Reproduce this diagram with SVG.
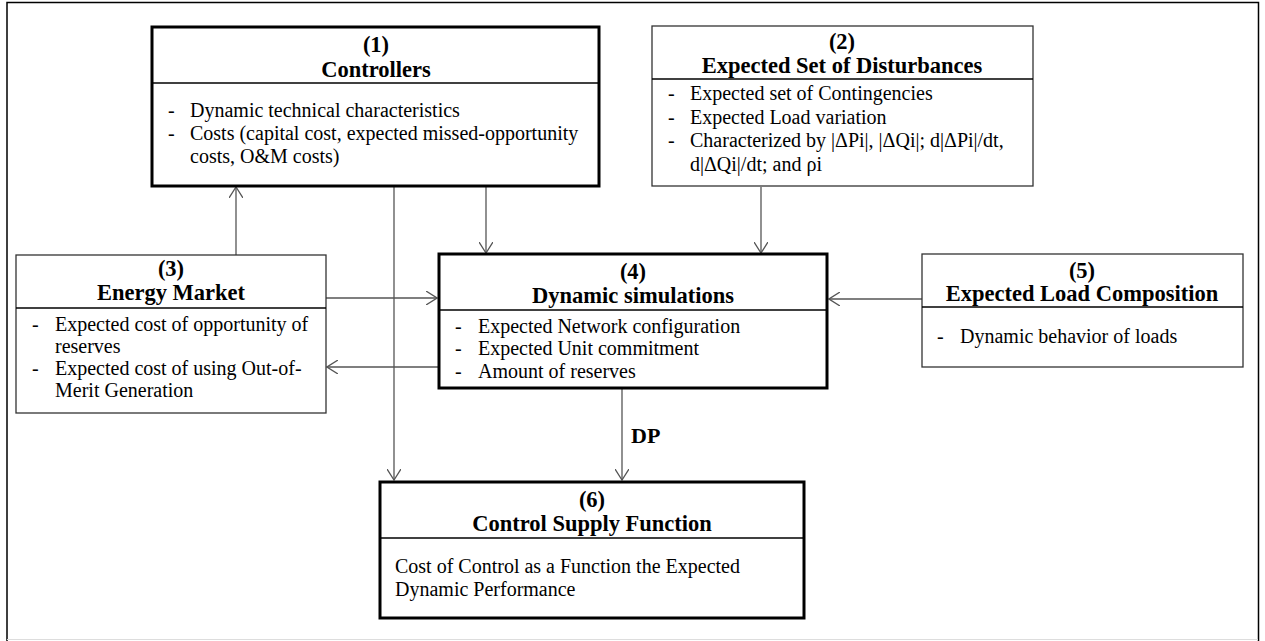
<svg xmlns="http://www.w3.org/2000/svg" width="1265" height="641" viewBox="0 0 1265 641">
<defs>
<style>
.thick{fill:#fff;stroke:#000;stroke-width:3}
.thin{fill:#fff;stroke:#333;stroke-width:1.3}
.div{stroke:#000;stroke-width:1.3}
.hd{font-family:"Liberation Serif","Times New Roman",serif;font-size:22.5px;font-weight:bold;text-anchor:middle;fill:#000}
.tx{font-family:"Liberation Serif","Times New Roman",serif;font-size:20px;fill:#000}
.con{stroke:#555;stroke-width:1.3;fill:none}
</style>
<marker id="ah" viewBox="0 0 12 14" refX="11" refY="7" markerWidth="12" markerHeight="14" markerUnits="userSpaceOnUse" orient="auto">
<path d="M0,0 L11,7 L0,14" fill="none" stroke="#555" stroke-width="1.3"/>
</marker>
</defs>
<rect width="1265" height="641" fill="#fff"/>
<path d="M7,641 V2.5 H1258.5 V641" fill="none" stroke="#000" stroke-width="1.5"/>
<line x1="7" y1="639.5" x2="1258" y2="639.5" stroke="#ddd" stroke-width="1"/>

<g id="connectors">
<line class="con" x1="486" y1="186" x2="486" y2="253" marker-end="url(#ah)"/>
<line class="con" x1="761" y1="187" x2="761" y2="253" marker-end="url(#ah)"/>
<line class="con" x1="236" y1="255" x2="236" y2="187" marker-end="url(#ah)"/>
<line class="con" x1="326" y1="298" x2="437" y2="298" marker-end="url(#ah)"/>
<line class="con" x1="922" y1="299" x2="829" y2="299" marker-end="url(#ah)"/>
<line class="con" x1="438" y1="367" x2="327" y2="367" marker-end="url(#ah)"/>
<line class="con" x1="394" y1="186" x2="394" y2="480" marker-end="url(#ah)"/>
<line class="con" x1="622" y1="389" x2="622" y2="480" marker-end="url(#ah)"/>
<text x="631" y="443" class="tx" style="font-weight:bold;font-size:22px">DP</text>
</g>

<g id="node1">
<rect class="thick" x="152" y="27" width="447" height="159"/>
<line class="div" x1="152" y1="83" x2="599" y2="83"/>
<text class="hd" x="376" y="52">(1)</text>
<text class="hd" x="376" y="77">Controllers</text>
<text class="tx" x="168" y="117">-</text>
<text class="tx" x="190" y="117">Dynamic technical characteristics</text>
<text class="tx" x="168" y="140">-</text>
<text class="tx" x="190" y="140">Costs (capital cost, expected missed-opportunity</text>
<text class="tx" x="190" y="163">costs, O&amp;M costs)</text>
</g>

<g id="node2">
<rect class="thin" x="652" y="26" width="381" height="160"/>
<line class="div" x1="652" y1="79" x2="1033" y2="79"/>
<text class="hd" x="842" y="49">(2)</text>
<text class="hd" x="842" y="73">Expected Set of Disturbances</text>
<text class="tx" x="668" y="100">-</text>
<text class="tx" x="690" y="100">Expected set of Contingencies</text>
<text class="tx" x="668" y="124">-</text>
<text class="tx" x="690" y="124">Expected Load variation</text>
<text class="tx" x="668" y="147">-</text>
<text class="tx" x="690" y="147">Characterized by |ΔPi|, |ΔQi|; d|ΔPi|/dt,</text>
<text class="tx" x="690" y="171">d|ΔQi|/dt; and ρi</text>
</g>

<g id="node3">
<rect class="thin" x="16" y="255" width="310" height="158"/>
<line class="div" x1="16" y1="308" x2="326" y2="308"/>
<text class="hd" x="171" y="276">(3)</text>
<text class="hd" x="171" y="300">Energy Market</text>
<text class="tx" x="32" y="331">-</text>
<text class="tx" x="55" y="331">Expected cost of opportunity of</text>
<text class="tx" x="55" y="353">reserves</text>
<text class="tx" x="32" y="375">-</text>
<text class="tx" x="55" y="375">Expected cost of using Out-of-</text>
<text class="tx" x="55" y="397">Merit Generation</text>
</g>

<g id="node4">
<rect class="thick" x="439" y="254" width="388" height="134"/>
<line class="div" x1="439" y1="310" x2="827" y2="310"/>
<text class="hd" x="633" y="279">(4)</text>
<text class="hd" x="633" y="303">Dynamic simulations</text>
<text class="tx" x="455" y="333">-</text>
<text class="tx" x="478" y="333">Expected Network configuration</text>
<text class="tx" x="455" y="355">-</text>
<text class="tx" x="478" y="355">Expected Unit commitment</text>
<text class="tx" x="455" y="378">-</text>
<text class="tx" x="478" y="378">Amount of reserves</text>
</g>

<g id="node5">
<rect class="thin" x="922" y="254" width="321" height="113"/>
<line class="div" x1="922" y1="307" x2="1243" y2="307"/>
<text class="hd" x="1082" y="278">(5)</text>
<text class="hd" x="1082" y="301">Expected Load Composition</text>
<text class="tx" x="937" y="343">-</text>
<text class="tx" x="960" y="343">Dynamic behavior of loads</text>
</g>

<g id="node6">
<rect class="thick" x="380" y="482" width="424" height="136"/>
<line class="div" x1="380" y1="538" x2="804" y2="538"/>
<text class="hd" x="592" y="507">(6)</text>
<text class="hd" x="592" y="531">Control Supply Function</text>
<text class="tx" x="395" y="573">Cost of Control as a Function the Expected</text>
<text class="tx" x="395" y="596">Dynamic Performance</text>
</g>
</svg>
